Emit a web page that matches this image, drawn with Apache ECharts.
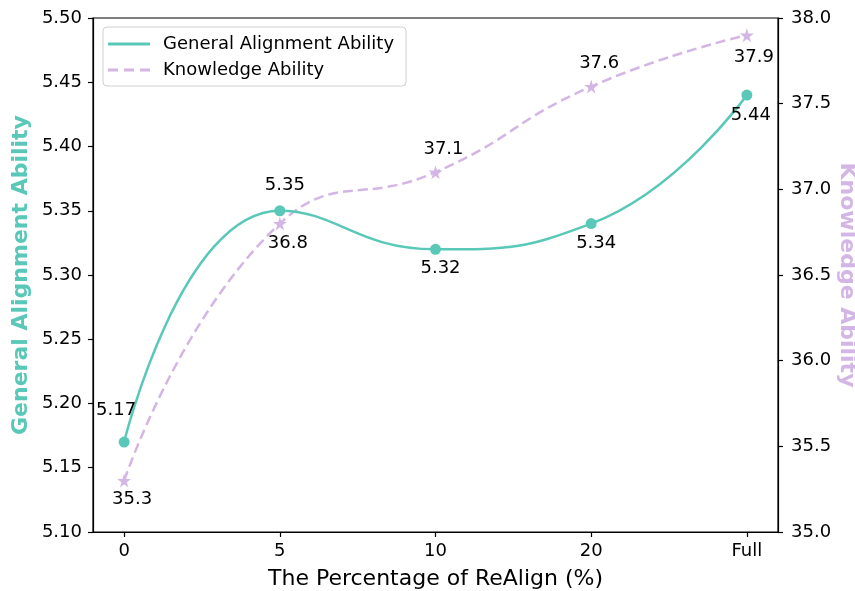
<!DOCTYPE html>
<html>
<head>
<meta charset="utf-8">
<script src="https://cdn.jsdelivr.net/npm/echarts@6/dist/echarts.min.js"></script>
<style>html,body{margin:0;padding:0;background:#fff}#c{width:855px;height:591px}</style>
</head>
<body>
<div id="c"></div>
<script>
var categories = ['0', '5', '10', '20', 'Full'];
var generalAlignment = [5.17, 5.35, 5.32, 5.34, 5.44];
var knowledgeAbility = [35.3, 36.8, 37.1, 37.6, 37.9];
var leftTicks = [5.10, 5.15, 5.20, 5.25, 5.30, 5.35, 5.40, 5.45, 5.50];
var rightTicks = [35.0, 35.5, 36.0, 36.5, 37.0, 37.5, 38.0];

// label offsets (styling)
var gOffsets = [[-8, -32], [5, -25], [5, 19], [5, 20], [4, 20]];
var kOffsets = [[8, 19], [8, 20], [8, -23], [8, -23], [7, 22]];

var GREEN = '#5ac8b8';
var PURPLE = '#d3b6e5';
var FONT = 'DejaVu Sans';
var FS = 18;

function mk(vals, offs, dec) {
  return vals.map(function (v, i) {
    return {
      value: [i, v],
      label: {
        show: true, position: 'inside', offset: offs[i],
        align: 'center', verticalAlign: 'middle',
        formatter: v.toFixed(dec), color: '#000',
        fontSize: FS, fontFamily: FONT
      }
    };
  });
}

var chart = echarts.init(document.getElementById('c'), null, {renderer: 'canvas'});
var axisTxt = {color: '#000', fontSize: FS, fontFamily: FONT};
chart.setOption({
  animation: false,
  backgroundColor: '#fff',
  grid: {left: 93, right: 77, top: 18, bottom: 59, containLabel: false, outerBoundsMode: 'none',
         show: true, borderColor: '#000', borderWidth: 1.2, backgroundColor: 'transparent'},
  legend: {
    left: 103, top: 27, orient: 'vertical',
    padding: [8, 12, 7, 5], itemGap: 8,
    itemWidth: 42, itemHeight: 3,
    borderColor: '#d0d0d0', borderWidth: 1, borderRadius: 4, backgroundColor: '#fff',
    textStyle: {color: '#000', fontSize: FS, fontFamily: FONT, padding: [0, 0, 0, 8]},
    data: [
      {name: 'General Alignment Ability', icon: 'path://M0,0h42v3h-42z'},
      {name: 'Knowledge Ability', icon: 'path://M0,0h10v3h-10z M16,0h10v3h-10z M32,0h10v3h-10z'}
    ]
  },
  xAxis: {
    type: 'value', min: -0.2, max: 4.2,
    name: 'The Percentage of ReAlign (%)', nameLocation: 'middle', nameGap: 36, nameMoveOverlap: false,
    nameTextStyle: {color: '#000', fontSize: 22, fontFamily: FONT},
    axisLine: {show: true, onZero: false, lineStyle: {color: '#000', width: 1.2}},
    axisTick: {show: true, length: 5, customValues: [0, 1, 2, 3, 4], lineStyle: {color: '#000', width: 1.2}},
    axisLabel: Object.assign({margin: 10, customValues: [0, 1, 2, 3, 4], formatter: function (v) { return categories[Math.round(v)]; }}, axisTxt),
    splitLine: {show: false}
  },
  yAxis: [
    {
      type: 'value', min: 5.10, max: 5.50, interval: 0.05, position: 'left',
      name: 'General Alignment Ability', nameLocation: 'middle', nameGap: 61, nameRotate: 90, nameMoveOverlap: false,
      nameTextStyle: {color: GREEN, fontSize: 22, fontWeight: 'bold', fontFamily: FONT},
      axisLine: {show: true, onZero: false, lineStyle: {color: '#000', width: 1.2}},
      axisTick: {show: true, length: 5, lineStyle: {color: '#000', width: 1.2}},
      axisLabel: Object.assign({margin: 11, formatter: function (v) { return v.toFixed(2); }}, axisTxt),
      splitLine: {show: false}
    },
    {
      type: 'value', min: 35.0, max: 38.0, interval: 0.5, position: 'right',
      name: 'Knowledge Ability', nameLocation: 'middle', nameGap: 58, nameRotate: -90, nameMoveOverlap: false,
      nameTextStyle: {color: PURPLE, fontSize: 22, fontWeight: 'bold', fontFamily: FONT},
      axisLine: {show: true, onZero: false, lineStyle: {color: '#000', width: 1.2}},
      axisTick: {show: true, length: 5, lineStyle: {color: '#000', width: 1.2}},
      axisLabel: Object.assign({margin: 13, formatter: function (v) { return v.toFixed(1); }}, axisTxt),
      splitLine: {show: false}
    }
  ],
  series: [
    {
      name: 'General Alignment Ability', type: 'line', yAxisIndex: 0,
      smooth: 0.5, symbol: 'circle', symbolSize: 11,
      color: GREEN,
      lineStyle: {color: GREEN, width: 2.5},
      itemStyle: {color: GREEN},
      data: mk(generalAlignment, gOffsets, 2), z: 3
    },
    {
      name: 'Knowledge Ability', type: 'line', yAxisIndex: 1,
      smooth: 0.5, symbol: 'path://M50,0 L61,35 L98,35 L68,57 L79,91 L50,70 L21,91 L32,57 L2,35 L39,35 Z', symbolSize: 14,
      color: PURPLE,
      lineStyle: {color: PURPLE, width: 2.5, type: [10, 5]},
      itemStyle: {color: PURPLE},
      data: mk(knowledgeAbility, kOffsets, 1), z: 2
    }
  ]
});
</script>
</body>
</html>
